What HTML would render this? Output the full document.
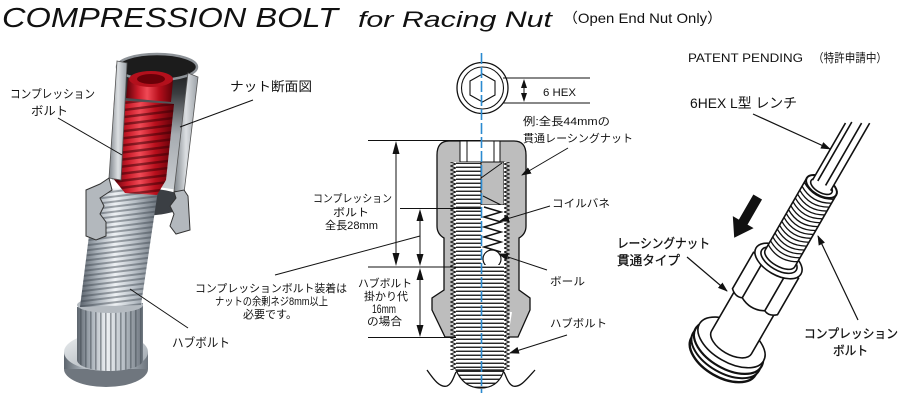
<!DOCTYPE html>
<html><head><meta charset="utf-8"><style>
html,body{margin:0;padding:0;background:#fff;}
svg{display:block;}
text{font-family:"Liberation Sans","Noto Sans CJK JP",sans-serif;fill:#111;}
</style></head><body>
<svg width="900" height="413" viewBox="0 0 900 413" xmlns="http://www.w3.org/2000/svg">
<defs>
 <linearGradient id="gSil" x1="0" x2="1" y1="0" y2="0">
  <stop offset="0" stop-color="#5d656e"/><stop offset="0.22" stop-color="#a9b1b9"/><stop offset="0.45" stop-color="#eef1f4"/><stop offset="0.7" stop-color="#b9c0c7"/><stop offset="1" stop-color="#6c747d"/>
 </linearGradient>
 <linearGradient id="gDisc" x1="0" x2="1" y1="0" y2="1">
  <stop offset="0" stop-color="#eceff1"/><stop offset="1" stop-color="#9aa2aa"/>
 </linearGradient>
 <linearGradient id="gRed" x1="0" x2="1" y1="0" y2="0">
  <stop offset="0" stop-color="#5a0008"/><stop offset="0.25" stop-color="#c81a28"/><stop offset="0.45" stop-color="#f04a56"/><stop offset="0.7" stop-color="#b80f1c"/><stop offset="1" stop-color="#600008"/>
 </linearGradient>
 <linearGradient id="gWall" x1="0" x2="1" y1="0" y2="0">
  <stop offset="0" stop-color="#7d8389"/><stop offset="0.5" stop-color="#dcdfe2"/><stop offset="1" stop-color="#9aa0a6"/>
 </linearGradient>
 <linearGradient id="gIn" x1="0" x2="0" y1="0" y2="1">
  <stop offset="0" stop-color="#151515"/><stop offset="0.22" stop-color="#3a3d40"/><stop offset="0.55" stop-color="#a6abb0"/><stop offset="1" stop-color="#c9cdd1"/>
 </linearGradient>
 <pattern id="pS" width="12" height="5" patternUnits="userSpaceOnUse" patternTransform="rotate(-7)"><rect width="12" height="2" y="3" fill="#3d454e" opacity=".45"/></pattern>
 <pattern id="pR" width="12" height="7" patternUnits="userSpaceOnUse" patternTransform="rotate(-7)"><rect width="12" height="2.5" y="4" fill="#3a0006" opacity=".55"/></pattern>
 <pattern id="pK" width="5" height="10" patternUnits="userSpaceOnUse"><rect width="1.6" height="10" fill="#40474f" opacity=".5"/></pattern>
 <pattern id="hth" width="8" height="4" patternUnits="userSpaceOnUse"><rect width="8" height="4" fill="#fff"/><rect y="2.6" width="8" height="1.3" fill="#111"/></pattern>
 <pattern id="zzL" width="6" height="4" patternUnits="userSpaceOnUse"><path d="M6,0 L0.6,2 L6,4 Z" fill="#fff"/><path d="M6,0 L0.6,2 L6,4" fill="none" stroke="#111" stroke-width="1"/></pattern>
 <pattern id="zzR" width="6" height="4" patternUnits="userSpaceOnUse"><path d="M0,0 L5.4,2 L0,4 Z" fill="#fff"/><path d="M0,0 L5.4,2 L0,4" fill="none" stroke="#111" stroke-width="1"/></pattern>
 <marker id="ar" markerWidth="10" markerHeight="7" refX="9" refY="3.5" orient="auto" markerUnits="userSpaceOnUse"><path d="M0,0 L10,3.5 L0,7 Z" fill="#111"/></marker>
</defs>

<!-- TITLE -->
<text x="2" y="27" font-size="28" font-style="italic" textLength="336" lengthAdjust="spacingAndGlyphs">COMPRESSION BOLT</text>
<text x="358" y="27" font-size="22" font-style="italic" textLength="194" lengthAdjust="spacingAndGlyphs">for Racing Nut</text>
<text x="563" y="23" font-size="14" textLength="159" lengthAdjust="spacingAndGlyphs">（Open End Nut Only）</text>

<!-- LEFT 3D RENDER -->
<ellipse cx="106" cy="369" rx="42" ry="18" fill="#6f767e"/>
<rect x="64" y="352" width="84" height="17" fill="url(#gSil)"/>
<ellipse cx="106" cy="352" rx="42" ry="19" fill="url(#gDisc)"/>
<path d="M77,307 L77,360 A33,11 0 0 0 143,360 L143,303 Z" fill="url(#gSil)"/>
<path d="M77,307 L77,360 A33,11 0 0 0 143,360 L143,303 Z" fill="url(#pK)"/>
<ellipse cx="110" cy="305" rx="33" ry="8" fill="#b4bac0"/>
<ellipse cx="138" cy="202" rx="50" ry="14" fill="#3b3f44"/>
<polygon points="95,188 158,190 141,305 80,307" fill="url(#gSil)"/>
<polygon points="95,188 158,190 141,305 80,307" fill="url(#pS)"/>
<polygon points="122,66 192,78 178,190 112,180" fill="url(#gIn)"/>
<ellipse cx="157" cy="67" rx="40" ry="13" fill="#1c1c1c" stroke="#8d9297" stroke-width="2.5"/>
<path d="M128,78 L126,98 L171,102 L173,80 Z" fill="url(#gRed)"/>
<ellipse cx="151" cy="79" rx="22" ry="8" fill="#b3101c"/>
<ellipse cx="151" cy="79" rx="14" ry="5" fill="#6a0008"/>
<path d="M114,100 L174,104 L166,180 L157,195 L125,193 L112,177 Z" fill="url(#gRed)"/>
<path d="M114,100 L174,104 L166,180 L157,195 L125,193 L112,177 Z" fill="url(#pR)"/>
<polygon points="117,61 127,63 121,180 109,178" fill="url(#gWall)" stroke="#555" stroke-width="0.8"/>
<polygon points="188,73 198,77 184,193 174,191" fill="url(#gWall)" stroke="#555" stroke-width="0.8"/>
<path d="M109,178 L100,184 L86,190 L86,236 L96,240 L106,236 L106,222 L100,214 L104,206 L100,198 L112,190 Z" fill="#b3b8bd" stroke="#333" stroke-width="1"/>
<path d="M184,190 L188,196 L190,230 L176,234 L170,226 L174,214 L170,206 L176,198 L174,192 Z" fill="#b3b8bd" stroke="#333" stroke-width="1"/>

<!-- left labels -->
<text x="10" y="98" font-size="12" textLength="85" lengthAdjust="spacingAndGlyphs">コンプレッション</text>
<text x="31" y="115" font-size="12" textLength="37" lengthAdjust="spacingAndGlyphs">ボルト</text>
<line x1="58" y1="118" x2="122" y2="155" stroke="#111" stroke-width="1"/>
<text x="230" y="91" font-size="13" textLength="82" lengthAdjust="spacingAndGlyphs">ナット断面図</text>
<line x1="253" y1="100" x2="180" y2="127" stroke="#111" stroke-width="1"/>
<text x="172" y="347" font-size="12.5" textLength="58" lengthAdjust="spacingAndGlyphs">ハブボルト</text>
<line x1="188" y1="328" x2="130" y2="289" stroke="#111" stroke-width="1"/>

<!-- MIDDLE TECH DRAWING -->
<circle cx="482.5" cy="88" r="25.5" fill="#fff" stroke="#111" stroke-width="1.3"/>
<circle cx="482.5" cy="88" r="21" fill="#fff" stroke="#111" stroke-width="1.1"/>
<polygon points="482.5,74 495,81 495,95 482.5,102 470,95 470,81" fill="#fff" stroke="#111" stroke-width="1.1"/>
<path d="M503,78 L590,78 M503,103 L590,103" stroke="#111" stroke-width="1"/>
<line x1="524" y1="86" x2="524" y2="95" stroke="#111" stroke-width="1"/>
<polygon points="524,79 521,88 527,88" fill="#111"/>
<polygon points="524,102 521,93 527,93" fill="#111"/>
<text x="543" y="96" font-size="11" textLength="33" lengthAdjust="spacingAndGlyphs">6 HEX</text>

<path d="M449,141 L514,141 Q526,141 526,155 L526,226 Q526,234 519,238 L519,290 L530,298 L530,310 L518,337 L445,337 L432,310 L432,298 L444,290 L444,238 Q437,234 437,226 L437,155 Q437,141 449,141 Z" fill="#bdbdbd" stroke="#111" stroke-width="1.3"/>
<path d="M451,312 L455,337 M511,312 L507,337" stroke="#fff" stroke-width="2"/>
<rect x="460" y="141" width="40" height="21" fill="#fff" stroke="#111" stroke-width="1"/>
<path d="M467,141 L467,162 M494,141 L494,162" stroke="#111" stroke-width="1"/>
<rect x="456" y="162" width="25" height="103" fill="url(#hth)"/>
<rect x="450" y="162" width="6" height="103" fill="url(#zzL)"/>
<rect x="481" y="162" width="23" height="43" fill="#bdbdbd" stroke="#111" stroke-width="1"/>
<path d="M481,178 L502,163 M483,196 L503,206" stroke="#111" stroke-width="1"/>
<rect x="481" y="205" width="23" height="60" fill="#fff"/>
<polyline points="484,207 501,212 484,217 501,222 484,227 501,232 484,237 501,242 484,247 501,252" fill="none" stroke="#111" stroke-width="1.5"/>
<rect x="504" y="162" width="6" height="103" fill="url(#zzR)"/>
<circle cx="492" cy="259" r="9" fill="#fff" stroke="#111" stroke-width="1.2"/>
<rect x="456" y="265" width="48" height="105" fill="url(#hth)"/>
<rect x="450" y="265" width="6" height="105" fill="url(#zzL)"/>
<rect x="504" y="265" width="6" height="105" fill="url(#zzR)"/>
<path d="M456,370 C462,384 472,388 481,388 C490,388 500,384 504,370 Z" fill="url(#hth)" stroke="#111" stroke-width="1.2"/>
<path d="M427,370 C434,380 440,388 447,386 C452,384 454,376 456,372 M504,372 C506,376 508,384 513,386 C520,388 526,380 535,370" fill="none" stroke="#111" stroke-width="1.3"/>

<!-- dimension lines -->
<path d="M368,140.5 L482,140.5 M400,208.5 L482,208.5 M368,267 L480,267 M368,337.5 L456,337.5" stroke="#111" stroke-width="1"/>
<path d="M396,152 L396,255 M420,219 L420,256 M420,278 L420,327" stroke="#111" stroke-width="1"/>
<polygon points="396,141 392.5,154 399.5,154" fill="#111"/>
<polygon points="396,266 392.5,253 399.5,253" fill="#111"/>
<polygon points="420,209 416.5,221 423.5,221" fill="#111"/>
<polygon points="420,266 416.5,254 423.5,254" fill="#111"/>
<polygon points="420,268 416.5,280 423.5,280" fill="#111"/>
<polygon points="420,337 416.5,325 423.5,325" fill="#111"/>

<!-- blue center line -->
<line x1="481.5" y1="53" x2="481.5" y2="393" stroke="#2b8ad0" stroke-width="1.6" stroke-dasharray="11 3"/>

<!-- middle labels -->
<text x="523" y="125" font-size="11" textLength="87" lengthAdjust="spacingAndGlyphs">例:全長44mmの</text>
<text x="523" y="142" font-size="11" textLength="110" lengthAdjust="spacingAndGlyphs">貫通レーシングナット</text>
<line x1="568" y1="148" x2="522" y2="175" stroke="#111" stroke-width="1" marker-end="url(#ar)"/>
<text x="313" y="202" font-size="11" textLength="79" lengthAdjust="spacingAndGlyphs">コンプレッション</text>
<text x="333" y="216" font-size="11" textLength="36" lengthAdjust="spacingAndGlyphs">ボルト</text>
<text x="325" y="229" font-size="11" textLength="53" lengthAdjust="spacingAndGlyphs">全長28mm</text>
<text x="552" y="207" font-size="11" textLength="58" lengthAdjust="spacingAndGlyphs">コイルバネ</text>
<line x1="550" y1="206" x2="500" y2="221" stroke="#111" stroke-width="1" marker-end="url(#ar)"/>
<text x="358" y="287" font-size="11" textLength="54" lengthAdjust="spacingAndGlyphs">ハブボルト</text>
<text x="364" y="300" font-size="11" textLength="44" lengthAdjust="spacingAndGlyphs">掛かり代</text>
<text x="372" y="313" font-size="12" textLength="24" lengthAdjust="spacingAndGlyphs">16mm</text>
<text x="367" y="325" font-size="11" textLength="35" lengthAdjust="spacingAndGlyphs">の場合</text>
<text x="195" y="292" font-size="11" textLength="152" lengthAdjust="spacingAndGlyphs">コンプレッションボルト装着は</text>
<text x="215" y="305" font-size="11" textLength="113" lengthAdjust="spacingAndGlyphs">ナットの余剰ネジ8mm以上</text>
<text x="243" y="318" font-size="11" textLength="54" lengthAdjust="spacingAndGlyphs">必要です。</text>
<line x1="275" y1="275" x2="420" y2="236" stroke="#111" stroke-width="1"/>
<text x="550" y="285" font-size="11" textLength="35" lengthAdjust="spacingAndGlyphs">ボール</text>
<line x1="547" y1="270" x2="499" y2="254" stroke="#111" stroke-width="1" marker-end="url(#ar)"/>
<text x="550" y="327" font-size="11" textLength="57" lengthAdjust="spacingAndGlyphs">ハブボルト</text>
<line x1="567" y1="335" x2="510" y2="353" stroke="#111" stroke-width="1" marker-end="url(#ar)"/>

<!-- RIGHT PANEL -->
<text x="688" y="62" font-size="12" textLength="115" lengthAdjust="spacingAndGlyphs">PATENT PENDING</text>
<text x="813" y="62" font-size="12" textLength="74" lengthAdjust="spacingAndGlyphs">（特許申請中）</text>
<text x="690" y="108" font-size="14" textLength="107" lengthAdjust="spacingAndGlyphs">6HEX L型 レンチ</text>

<g transform="translate(730,345) rotate(30)" stroke="#111" stroke-width="1.6" fill="#fff">
 <ellipse cx="0" cy="13" rx="37" ry="21" stroke-width="2.4"/>
 <ellipse cx="0" cy="8" rx="38" ry="21" stroke-width="2"/>
 <ellipse cx="0" cy="3" rx="38" ry="21" stroke-width="2.2"/>
 <ellipse cx="0" cy="-3" rx="37" ry="20"/>
 <path d="M-23,-3 L-23,-48 L23,-48 L23,-3 A23,12 0 0 1 -23,-3 Z"/>
 <path d="M-26,-50 L-26,-92 L26,-92 L26,-50 Q19.5,-44 13,-47 Q0,-40 -13,-47 Q-19.5,-44 -26,-50 Z"/>
 <path d="M-13,-47 L-13,-92 M13,-47 L13,-92" fill="none"/>
 <ellipse cx="0" cy="-97" rx="26" ry="14"/>
 <ellipse cx="0" cy="-98" rx="20" ry="10"/>
 <path d="M-17,-100 L-17,-182 L17,-182 L17,-100 A17,8 0 0 1 -17,-100 Z"/>
 <path fill="none" stroke-width="1.3" d="M-17,-106 Q0,-96 17,-106 M-17,-110.5 Q0,-100.5 17,-110.5 M-17,-115 Q0,-105 17,-115 M-17,-119.5 Q0,-109.5 17,-119.5 M-17,-124 Q0,-114 17,-124 M-17,-128.5 Q0,-118.5 17,-128.5 M-17,-133 Q0,-123 17,-133 M-17,-137.5 Q0,-127.5 17,-137.5 M-17,-142 Q0,-132 17,-142 M-17,-146.5 Q0,-136.5 17,-146.5 M-17,-151 Q0,-141 17,-151 M-17,-155.5 Q0,-145.5 17,-155.5 M-17,-160 Q0,-150 17,-160 M-17,-164.5 Q0,-154.5 17,-164.5 M-17,-169 Q0,-159 17,-169 M-17,-173.5 Q0,-163.5 17,-173.5 M-17,-178 Q0,-168 17,-178"/>
 <ellipse cx="0" cy="-183" rx="17" ry="9" stroke-width="2"/>
 <ellipse cx="0" cy="-183" rx="12" ry="6"/>
 <rect x="-11" y="-262" width="21" height="78" stroke="none"/>
 <path fill="none" d="M-11,-184 L-11,-250 M-6,-186 L-6,-254 M3,-186 L3,-258 M10,-184 L10,-262"/>
 <polygon points="-55,-142 -45,-142 -45,-113 -38,-113 -50,-95 -62,-113 -55,-113" fill="#111" stroke="none"/>
</g>

<line x1="753" y1="114" x2="830" y2="149" stroke="#111" stroke-width="1.2" marker-end="url(#ar)"/>
<text x="617" y="248" font-size="13" textLength="93" lengthAdjust="spacingAndGlyphs" stroke="#111" stroke-width="0.3">レーシングナット</text>
<text x="617" y="265" font-size="13" textLength="63" lengthAdjust="spacingAndGlyphs" stroke="#111" stroke-width="0.3">貫通タイプ</text>
<line x1="687" y1="257" x2="727" y2="291" stroke="#111" stroke-width="1.2" marker-end="url(#ar)"/>
<text x="804" y="338" font-size="12.5" textLength="94" lengthAdjust="spacingAndGlyphs" stroke="#111" stroke-width="0.3">コンプレッション</text>
<text x="833" y="355" font-size="12.5" textLength="35" lengthAdjust="spacingAndGlyphs" stroke="#111" stroke-width="0.3">ボルト</text>
<line x1="858" y1="320" x2="818" y2="236" stroke="#111" stroke-width="1.2" marker-end="url(#ar)"/>
</svg>
</body></html>
